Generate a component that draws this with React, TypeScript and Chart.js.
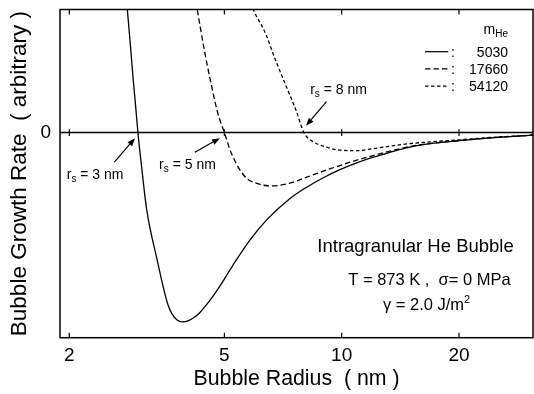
import React, { useEffect, useRef } from "react";
import { Chart, registerables } from "chart.js";

Chart.register(...registerables);

const FONT = "'Liberation Sans', Arial, Helvetica, sans-serif";

// Axis ranges and ticks
const X_MIN = 1.893;
const X_MAX = 30.97;
const Y_MIN = -12.5;
const Y_MAX = 7.5;
const X_TICKS = [2, 3, 4, 5, 6, 7, 8, 9, 10, 20, 30];
const X_LABELED = [2, 5, 10, 20];
const Y_TICKS = [-12, -11, -10, -9, -8, -7, -6, -5, -4, -3, -2, -1, 0, 1, 2, 3, 4, 5, 6, 7];
const Y_LABELED = [0];

// Series: m_He = 5030 (solid)
const R_5030 = [2.77, 2.818, 2.87, 2.918, 2.96, 3.0, 3.06, 3.16, 3.352, 3.479, 3.584, 3.669, 3.78, 3.893, 4.033, 4.178, 4.329, 4.62, 4.93, 5.27, 5.82, 6.42, 7.37, 8.13, 8.97, 9.9, 10.93, 12.05, 13.3, 14.68, 16.19, 20.12, 24.03, 31.0];
const G_5030 = [9.6, 7.5, 5.3, 3.21, 1.6, 0, -1.9, -4.71, -7.64, -9.35, -10.51, -11.05, -11.42, -11.54, -11.48, -11.27, -10.96, -10.14, -9.16, -8.05, -6.54, -5.32, -4.02, -3.33, -2.75, -2.26, -1.85, -1.5, -1.2, -0.93, -0.73, -0.49, -0.32, -0.16];

// Series: m_He = 17660 (long dash)
const R_17660 = [4.15, 4.26, 4.44, 4.62, 4.81, 5.0, 5.21, 5.645, 6.115, 6.63, 7.33, 8.13, 8.97, 9.9, 10.93, 12.05, 13.3, 14.68, 16.19, 20.12, 24.03, 31.0];
const G_17660 = [9.0, 7.48, 5.04, 3.01, 1.18, 0, -1.26, -2.68, -3.13, -3.25, -3.1, -2.72, -2.35, -2.01, -1.68, -1.4, -1.13, -0.89, -0.72, -0.48, -0.32, -0.16];

// Series: m_He = 54120 (short dash)
const R_54120 = [5.7, 5.935, 6.37, 6.76, 7.18, 7.63, 8.0, 8.44, 8.97, 9.9, 10.93, 12.05, 13.3, 14.68, 16.19, 20.12, 24.03, 31.0];
const G_54120 = [8.6, 7.48, 6.06, 4.43, 2.91, 1.38, 0, -0.55, -0.83, -1.07, -1.1, -0.98, -0.83, -0.69, -0.6, -0.44, -0.3, -0.16];

const SERIES_LABELS = ["5030", "17660", "54120"];
const DASHES: number[][] = [[], [5.5, 3], [3.5, 2.5]];

// Annotations (data coordinates)
const RS_LABELS = ["3", "5", "8"];
const RS_TEXT_X = [1.97, 3.4, 8.3];
const RS_TEXT_Y = [-2.82, -2.23, 2.36];
const ARROW_FROM_X = [2.61, 4.2, 9.14];
const ARROW_FROM_Y = [-1.8, -1.2, 1.89];
const ARROW_TO_X = [2.949, 4.87, 8.1];
const ARROW_TO_Y = [-0.34, -0.34, 0.41];

const INFO_X = [15.47, 16.8, 16.51];
const INFO_Y = [-7.26, -9.29, -10.81];

const decor = {
  id: "decor",
  afterDraw(chart: any) {
    const { ctx, chartArea: a, scales } = chart;
    const x = scales.x;
    const y = scales.y;
    const line = (x1: number, y1: number, x2: number, y2: number) => {
      ctx.beginPath();
      ctx.moveTo(x1, y1);
      ctx.lineTo(x2, y2);
      ctx.stroke();
    };
    const rich = (parts: [string, number, number][], px: number, py: number, align: string) => {
      let total = 0;
      const widths = parts.map(([t, s]) => {
        ctx.font = `${s}px ${FONT}`;
        const w = ctx.measureText(t).width;
        total += w;
        return w;
      });
      let cx = align === "right" ? px - total : align === "center" ? px - total / 2 : px;
      ctx.textAlign = "left";
      ctx.textBaseline = "alphabetic";
      parts.forEach(([t, s, dy], i) => {
        ctx.font = `${s}px ${FONT}`;
        ctx.fillText(t, cx, py + dy);
        cx += widths[i];
      });
    };
    const arrow = (x1: number, y1: number, x2: number, y2: number) => {
      const ang = Math.atan2(y2 - y1, x2 - x1);
      const L = 8, W = 3;
      const bx = x2 - L * Math.cos(ang);
      const by = y2 - L * Math.sin(ang);
      ctx.lineWidth = 1.2;
      line(x1, y1, bx, by);
      ctx.beginPath();
      ctx.moveTo(x2, y2);
      ctx.lineTo(bx + W * Math.sin(ang), by - W * Math.cos(ang));
      ctx.lineTo(bx - W * Math.sin(ang), by + W * Math.cos(ang));
      ctx.closePath();
      ctx.fill();
    };

    ctx.save();
    ctx.strokeStyle = "#000";
    ctx.fillStyle = "#000";
    ctx.setLineDash([]);

    const y0 = y.getPixelForValue(0);
    ctx.lineWidth = 1.5;
    line(a.left, y0, a.right, y0);
    ctx.strokeRect(a.left, a.top, a.right - a.left, a.bottom - a.top);

    ctx.lineWidth = 1.2;
    for (const t of x.ticks) {
      const p = x.getPixelForValue(t.value);
      line(p, a.bottom, p, a.bottom - 5);
      line(p, a.top, p, a.top + 5);
      line(p, y0 - 3.3, p, y0 + 3.3);
    }
    for (const t of y.ticks) {
      const p = y.getPixelForValue(t.value);
      line(a.left, p, a.left + 3, p);
      line(a.right - 3, p, a.right, p);
    }

    // r_s annotations
    RS_LABELS.forEach((lab, i) => {
      rich(
        [["r", 14, 0], ["s", 10, 3], [" = " + lab + " nm", 14, 0]],
        x.getPixelForValue(RS_TEXT_X[i]),
        y.getPixelForValue(RS_TEXT_Y[i]),
        "left"
      );
      arrow(
        x.getPixelForValue(ARROW_FROM_X[i]),
        y.getPixelForValue(ARROW_FROM_Y[i]),
        x.getPixelForValue(ARROW_TO_X[i]),
        y.getPixelForValue(ARROW_TO_Y[i])
      );
    });

    // info block
    rich([["Intragranular He Bubble", 18.5, 0]], x.getPixelForValue(INFO_X[0]), y.getPixelForValue(INFO_Y[0]), "center");
    rich([["T = 873 K ,  σ= 0 MPa", 16.5, 0]], x.getPixelForValue(INFO_X[1]), y.getPixelForValue(INFO_Y[1]), "center");
    rich([["γ = 2.0 J/m", 16.5, 0], ["2", 11, -7]], x.getPixelForValue(INFO_X[2]), y.getPixelForValue(INFO_Y[2]), "center");

    // legend
    const R = a.right;
    const T = a.top;
    rich([["m", 14, 0], ["He", 10, 3]], R - 25, T + 24.8, "right");
    SERIES_LABELS.forEach((lab, i) => {
      const base = T + 47.2 + i * 17.2;
      ctx.lineWidth = 1.2;
      ctx.setLineDash(DASHES[i]);
      line(R - 108, base - 5, R - 84.7, base - 5);
      ctx.setLineDash([]);
      ctx.font = `14px ${FONT}`;
      ctx.textAlign = "left";
      ctx.fillText(":", R - 82, base);
      ctx.textAlign = "right";
      ctx.fillText(lab, R - 25, base);
    });
    ctx.restore();
  },
};

export default function App() {
  const ref = useRef<HTMLCanvasElement>(null);
  useEffect(() => {
    const canvas = ref.current!;
    const mk = (xs: number[], ys: number[]) => xs.map((v, i) => ({ x: v, y: ys[i] }));
    const series = [mk(R_5030, G_5030), mk(R_17660, G_17660), mk(R_54120, G_54120)];
    const chart = new Chart(canvas, {
      type: "line",
      data: {
        datasets: series.map((d, i) => ({
          label: SERIES_LABELS[i],
          data: d,
          borderColor: "#000",
          borderWidth: 1.3,
          borderDash: DASHES[i],
          pointRadius: 0,
          fill: false,
          cubicInterpolationMode: "monotone",
        })),
      },
      options: {
        animation: false,
        responsive: false,
        devicePixelRatio: 1,
        events: [],
        layout: { padding: { top: 9.5, right: 1, left: 0, bottom: 0 } },
        plugins: { legend: { display: false }, tooltip: { enabled: false } },
        scales: {
          x: {
            type: "logarithmic",
            min: X_MIN,
            max: X_MAX,
            afterBuildTicks: (s: any) => {
              s.ticks = X_TICKS.map((v) => ({ value: v }));
            },
            afterFit: (s: any) => {
              s.height = 56.3;
              s.paddingLeft = 0;
              s.paddingRight = 0;
            },
            grid: { display: false, drawTicks: false },
            border: { display: false },
            ticks: {
              autoSkip: false,
              maxRotation: 0,
              padding: 6.6,
              color: "#000",
              font: { size: 19, family: FONT },
              callback: (v: any) => (X_LABELED.includes(Number(v)) ? String(v) : null),
            },
            title: {
              display: true,
              text: "Bubble Radius  ( nm )",
              color: "#000",
              font: { size: 21.3, family: FONT },
              padding: { top: 0, bottom: 2 },
            },
          },
          y: {
            type: "linear",
            min: Y_MIN,
            max: Y_MAX,
            afterBuildTicks: (s: any) => {
              s.ticks = Y_TICKS.map((v) => ({ value: v }));
            },
            afterFit: (s: any) => {
              s.width = 60;
              s.paddingTop = 0;
              s.paddingBottom = 0;
            },
            grid: { display: false, drawTicks: false },
            border: { display: false },
            ticks: {
              autoSkip: false,
              padding: 9,
              color: "#000",
              font: { size: 19, family: FONT },
              callback: (v: any) => (Y_LABELED.includes(Number(v)) ? String(v) : null),
            },
            title: {
              display: true,
              text: "Bubble Growth Rate  ( arbitrary )",
              color: "#000",
              font: { size: 22.5, family: FONT },
              padding: { top: 6, bottom: 0 },
            },
          },
        },
      },
      plugins: [decor],
    } as any);
    return () => chart.destroy();
  }, []);
  return (
    <div style={{ position: "fixed", left: 0, top: 0, width: 534, height: 394, background: "#fff" }}>
      <canvas ref={ref} width={534} height={394} style={{ display: "block", width: 534, height: 394 }} />
    </div>
  );
}
